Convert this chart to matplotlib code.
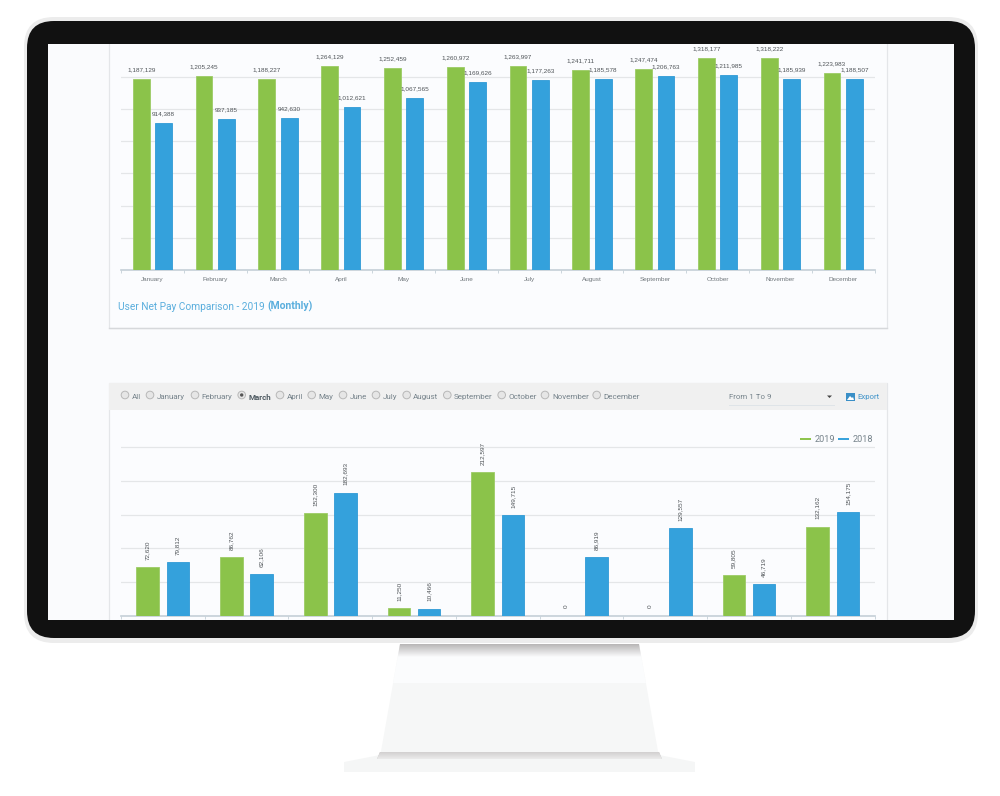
#!/usr/bin/env python3
"""Monitor mockup showing two grouped bar charts from a payroll dashboard."""
import numpy as np
import matplotlib
matplotlib.use("Agg")
import matplotlib.pyplot as plt
from matplotlib.patches import Circle, FancyBboxPatch, Polygon, Rectangle

W, H = 1000, 796
GREEN, BLUE = "#8bc34a", "#34a1dc"
LABEL = "#4f5458"
TITLE = "#5aaedd"

months = ["January", "February", "March", "April", "May", "June", "July",
          "August", "September", "October", "November", "December"]
monthly_2019 = [1187129, 1205245, 1188227, 1264129, 1252459, 1260972,
                1263997, 1241711, 1247474, 1318177, 1318222, 1223983]
monthly_2018 = [914388, 937185, 942630, 1012621, 1067565, 1169626,
                1177263, 1185578, 1206763, 1211985, 1185939, 1188507]

user_2019 = [72620, 86762, 152300, 11250, 212597, 0, 0, 59805, 132162]
user_2018 = [79812, 62106, 182693, 10466, 149715, 86919, 129557, 46719, 154175]

filter_labels = ["All", "January", "February", "March", "April", "May", "June",
                 "July", "August", "September", "October", "November", "December"]
radio_x = [125, 150, 195, 241.7, 280, 311.7, 343, 376, 406.7, 447.3, 501.7, 545, 596.7]
label_x = [132, 157, 201.3, 248.7, 286.7, 318.7, 350, 383, 413.3, 454, 508.3, 552, 603.7]

plt.rcParams["font.family"] = ["Liberation Sans", "DejaVu Sans"]
fig = plt.figure(figsize=(W / 100, H / 100), dpi=100, facecolor="white")

# pixel canvas for everything that is not a chart
bg = fig.add_axes([0, 0, 1, 1], zorder=0)
bg.set_xlim(0, W)
bg.set_ylim(H, 0)
bg.axis("off")


def round_box(x0, y0, x1, y1, r, **kw):
    bg.add_patch(FancyBboxPatch((x0 + r, y0 + r), x1 - x0 - 2 * r, y1 - y0 - 2 * r,
                                boxstyle=f"round,pad={r},rounding_size={r}", lw=0, **kw))


def vgrad(x0, x1, y0, y1, top, bottom, clip):
    """Vertical two-colour gradient, clipped to a patch."""
    c0, c1 = [np.array(matplotlib.colors.to_rgb(c)) for c in (top, bottom)]
    g = np.linspace(0, 1, 32)[:, None, None]
    im = bg.imshow(c0 + (c1 - c0) * g, extent=(x0, x1, y1, y0), aspect="auto", zorder=3)
    im.set_clip_path(clip)


# ---------- stand ----------
base = Polygon([(380, 755), (344, 762), (344, 772), (695, 772), (695, 762), (659, 755)],
               fc="#f5f6f6", ec="none", zorder=1)
bg.add_patch(base)
neck = Polygon([(400, 644), (639, 644), (659, 757), (380, 757)], fc="#f6f7f7", ec="none", zorder=2)
bg.add_patch(neck)
vgrad(380, 660, 644, 657, "#b8b6b6", "#fafbfc", neck)
light = Rectangle((380, 657), 280, 26, fc="#fbfcfd", ec="none", zorder=3)
bg.add_patch(light)
light.set_clip_path(neck)
band = Polygon([(380, 752), (659, 752), (662, 759), (377, 759)], fc="#c8c6c6", ec="none", zorder=2)
bg.add_patch(band)
vgrad(376, 664, 752, 760, "#d2d0d0", "#efefef", band)

# ---------- monitor ----------
round_box(24, 17, 978, 643, 30, fc="#ececec", zorder=5)
round_box(27, 21, 975, 638, 27, fc="#111111", zorder=6)
bg.add_patch(Rectangle((47.5, 44), 906.5, 576, fc="#fafbfd", ec="none", zorder=7))

# cards, cut off by the screen edge
screen = Rectangle((47.5, 44), 906.5, 576, transform=bg.transData)
for y0, y1 in [(30, 328), (383, 640)]:
    card = Rectangle((109, y0), 778, y1 - y0, fc="#fbfcfe", ec="#e4e6e9", lw=0.9, zorder=8)
    bg.add_patch(card)
    card.set_clip_path(screen)
bg.plot([109, 887], [328.3, 328.3], color="#d6d8db", lw=1.0, zorder=8)
bg.add_patch(Rectangle((109, 383), 778, 27, fc="#f0f0f0", ec="none", zorder=9))

# ---------- toolbar ----------
for i, (rx, lx, name) in enumerate(zip(radio_x, label_x, filter_labels)):
    bg.add_patch(Circle((rx, 395), 3.8, fc="#e6e6e6", ec="#b8b8b8", lw=0.7, zorder=10))
    active = name == "March"
    if active:
        bg.add_patch(Circle((rx, 395), 1.7, fc="#555555", ec="none", zorder=11))
    bg.text(lx, 397, name, family="Roboto", fontsize=5.8, color="#4f5b62" if active else "#76838b",
            weight="bold" if active else "normal", va="center", zorder=11)

bg.text(729, 397, "From 1 To 9", family="Roboto", fontsize=5.7, color="#76838b", va="center", zorder=11)
bg.add_patch(Polygon([(827, 395.5), (832, 395.5), (829.5, 398)], fc="#444444", ec="none", zorder=11))
bg.plot([729, 834], [405, 405], color="#dfe4e8", lw=0.7, zorder=11)
bg.add_patch(Rectangle((845.5, 393), 9.5, 8, fc="#3a8fc7", ec="none", zorder=11))
bg.add_patch(Polygon([(847, 400), (850, 396), (852, 398), (853, 397), (854, 400)], fc="white", ec="none", zorder=12))
bg.text(857, 397, "Export", family="Roboto", fontsize=5.6, color="#3f93c9", va="center", zorder=11)

# legend of the lower chart
for x0, name, col in [(800, "2019", GREEN), (838, "2018", BLUE)]:
    bg.plot([x0, x0 + 11], [439, 439], color=col, lw=1.4, solid_capstyle="butt", zorder=11)
    bg.text(x0 + 15, 439, name, family="Roboto", fontsize=6.6, color="#76838b", va="center", zorder=11)

# title under the upper chart
bg.text(118, 306.5, "User Net Pay Comparison - 2019", family="Roboto", fontsize=7.3,
        color=TITLE, va="center", zorder=11)
bg.text(267.5, 306.5, "(Monthly)", family="Roboto", fontsize=7.5, weight="bold",
        color=TITLE, va="center", zorder=11)


# ---------- charts ----------
def chart_axes(left, top, right, bottom):
    ax = fig.add_axes([left / W, 1 - bottom / H, (right - left) / W, (bottom - top) / H], zorder=2)
    ax.patch.set_alpha(0)
    for side in ("top", "left", "right"):
        ax.spines[side].set_visible(False)
    ax.spines["bottom"].set_color("#c4cfd7")
    ax.spines["bottom"].set_linewidth(1.2)
    ax.set_axisbelow(True)
    ax.grid(axis="y", color="#e4e6e8", lw=0.9)
    ax.tick_params(axis="y", length=0, labelleft=False)
    ax.tick_params(axis="x", which="major", length=2.2, width=0.6, color="#c4cfd7", labelbottom=False)
    return ax


def grouped(ax, a, b, off, rotation, gap):
    n = len(a)
    x = np.arange(n)
    ax.set_xlim(-0.5, n - 0.5)
    ax.set_xticks(np.arange(n + 1) - 0.5)
    for vals, dx, col, edge in [(a, -off, GREEN, "#9ccb66"), (b, off, BLUE, "#2f9ad6")]:
        ax.bar(x + dx, vals, 0.27, color=col, edgecolor=edge, lw=0.6, zorder=3)
        for xi, v in zip(x, vals):
            ax.annotate(f"{v:,}", (xi + dx, v), xytext=(0, gap), textcoords="offset points",
                        ha="center", va="bottom", rotation=rotation, fontsize=4.6,
                        color=LABEL, zorder=4)


top = chart_axes(121, 44, 874.6, 270)
grouped(top, monthly_2019, monthly_2018, 0.178, 0, 4.8)
top.set_ylim(0, 1200000 * 226 / 193.3)
top.set_yticks(np.arange(200000, 1400000, 200000))
top.set_xticks(np.arange(12), labels=months, minor=True)
top.tick_params(axis="x", which="minor", length=0, pad=5.2, labelsize=4.6, labelcolor="#6f767b")

low = chart_axes(121, 420, 874.6, 615.7)
grouped(low, user_2019, user_2018, 0.18, 90, 5.2)
low.set_ylim(0, 250000 * 195.7 / 168.4)
low.set_yticks(np.arange(50000, 300000, 50000))

fig.savefig("out.png", dpi=100)
